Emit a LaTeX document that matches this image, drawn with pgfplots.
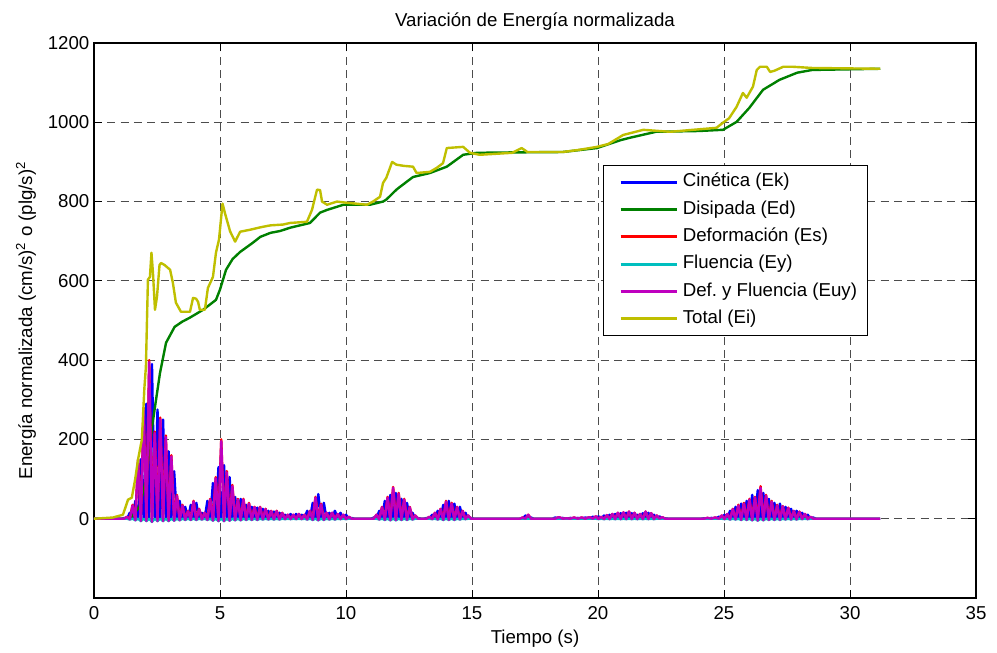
\documentclass[border=0pt]{standalone}
\usepackage{fontspec}
\setmainfont{Liberation Sans}
\usepackage{pgfplots}
\pgfplotsset{compat=1.18}
\usepackage{pgfplotstable}

\definecolor{mblue}{rgb}{0,0,1}
\definecolor{mgreen}{rgb}{0,0.5,0}
\definecolor{mred}{rgb}{1,0,0}
\definecolor{mcyan}{rgb}{0,0.75,0.75}
\definecolor{mmag}{rgb}{0.75,0,0.75}
\definecolor{myel}{rgb}{0.75,0.75,0}

% t Ek Es Ey Euy
\pgfplotstableread{
t Ek Es Ey Euy
0 0 0 0 0
1.10 0 0 0 0
1.20 2 0 0 0
1.31 0 5 0 5
1.42 15 0 -2 -2
1.53 0 35 0 33
1.64 45 0 -4 -4
1.75 0 150 0 148
1.86 150 0 -6 -6
1.97 0 280 0 276
2.08 290 0 -6 -6
2.19 0 400 0 395
2.30 390 0 -8 -8
2.41 0 220 0 216
2.52 275 0 -6 -6
2.63 0 255 0 250
2.74 250 0 -6 -6
2.85 0 210 0 206
2.96 170 0 -6 -6
3.07 0 160 0 157
3.18 120 0 -5 -5
3.29 0 60 0 58
3.40 45 0 -4 -4
3.51 0 35 0 33
3.62 30 0 -3 -3
3.73 0 20 0 19
3.84 35 0 -3 -3
3.95 0 45 0 43
4.06 40 0 -3 -3
4.17 0 25 0 24
4.28 15 0 -2 -2
4.39 0 15 0 15
4.50 45 0 -3 -3
4.61 0 50 0 48
4.72 90 0 -5 -5
4.83 0 105 0 102
4.94 130 0 -6 -6
5.05 0 200 0 196
5.16 135 0 -6 -6
5.27 0 120 0 117
5.38 105 0 -5 -5
5.49 0 85 0 82
5.60 55 0 -4 -4
5.71 0 50 0 48
5.82 50 0 -4 -4
5.93 0 50 0 48
6.04 35 0 -3 -3
6.15 0 40 0 38
6.26 30 0 -3 -3
6.37 0 30 0 29
6.48 28 0 -3 -3
6.59 0 30 0 29
6.70 25 0 -2 -2
6.81 0 25 0 24
6.92 20 0 -2 -2
7.03 0 20 0 19
7.14 18 0 -2 -2
7.25 0 20 0 19
7.36 15 0 -2 -2
7.47 0 15 0 14
7.58 10 0 -1 -1
7.69 0 10 0 10
7.80 12 0 -1 -1
7.91 0 10 0 10
8.02 12 0 -1 -1
8.13 0 12 0 12
8.24 10 0 -1 -1
8.35 0 10 0 10
8.46 20 0 -2 -2
8.57 0 20 0 19
8.68 40 0 -3 -3
8.79 0 55 0 53
8.90 62 0 -4 -4
9.01 0 38 0 36
9.12 40 0 -3 -3
9.23 0 15 0 15
9.34 15 0 -2 -2
9.45 0 15 0 15
9.56 20 0 -2 -2
9.67 0 12 0 12
9.78 15 0 -1 -1
9.89 0 10 0 10
10.00 10 0 -1 -1
10.11 0 5 0 5
10.22 2 0 0 0
10.33 0 0 0 0
11.00 0 0 0 0
11.10 3 0 0 0
11.21 0 10 0 10
11.32 20 0 -2 -2
11.43 0 30 0 29
11.54 45 0 -3 -3
11.65 0 55 0 53
11.76 60 0 -4 -4
11.87 0 80 0 78
11.98 65 0 -4 -4
12.09 0 65 0 63
12.20 50 0 -3 -3
12.31 0 50 0 48
12.42 40 0 -3 -3
12.53 0 30 0 29
12.64 15 0 -2 -2
12.75 0 8 0 8
12.86 2 0 0 0
12.97 0 0 0 0
13.10 0 0 0 0
13.20 2 0 0 0
13.31 0 5 0 5
13.42 10 0 -1 -1
13.53 0 15 0 15
13.64 20 0 -2 -2
13.75 0 25 0 24
13.86 35 0 -3 -3
13.97 0 45 0 43
14.08 45 0 -3 -3
14.19 0 40 0 38
14.30 38 0 -3 -3
14.41 0 30 0 29
14.52 30 0 -2 -2
14.63 0 20 0 19
14.74 15 0 -1 -1
14.85 0 8 0 8
14.96 2 0 0 0
15.07 0 0 0 0
16.90 0 0 0 0
17.01 0 3 0 3
17.12 8 0 0 0
17.23 0 10 0 10
17.34 3 0 0 0
17.45 0 0 0 0
18.20 0 0 0 0
18.30 3 0 0 0
18.45 0 4 0 4
18.60 2 0 0 0
18.75 0 1 0 1
18.90 2 0 0 0
19.05 0 3 0 3
19.20 2 0 0 0
19.35 0 3 0 3
19.50 3 0 0 0
19.65 0 4 0 4
19.80 5 0 0 0
19.91 0 6 0 6
20.02 6 0 -1 -1
20.13 0 5 0 5
20.24 8 0 -1 -1
20.35 0 9 0 9
20.46 10 0 -1 -1
20.57 0 12 0 12
20.68 12 0 -1 -1
20.79 0 15 0 15
20.90 14 0 -1 -1
21.01 0 16 0 16
21.12 15 0 -1 -1
21.23 0 18 0 18
21.34 14 0 -1 -1
21.45 0 15 0 15
21.56 10 0 -1 -1
21.67 0 12 0 12
21.78 14 0 -1 -1
21.89 0 18 0 18
22.00 15 0 -1 -1
22.11 0 14 0 14
22.22 10 0 -1 -1
22.33 0 8 0 8
22.44 6 0 0 0
22.55 0 4 0 4
22.66 1 0 0 0
22.77 0 0 0 0
24.10 0 0 0 0
24.20 1 0 0 0
24.35 0 2 0 2
24.50 2 0 0 0
24.65 0 3 0 3
24.80 5 0 0 0
24.91 0 8 0 8
25.02 10 0 -1 -1
25.13 0 12 0 12
25.24 20 0 -2 -2
25.35 0 25 0 24
25.46 30 0 -2 -2
25.57 0 35 0 33
25.68 38 0 -3 -3
25.79 0 40 0 38
25.90 45 0 -3 -3
26.01 0 50 0 48
26.12 60 0 -4 -4
26.23 0 55 0 53
26.34 72 0 -5 -5
26.45 0 82 0 78
26.56 65 0 -4 -4
26.67 0 60 0 58
26.78 50 0 -3 -3
26.89 0 45 0 43
27.00 40 0 -3 -3
27.11 0 35 0 33
27.22 38 0 -3 -3
27.33 0 32 0 31
27.44 30 0 -2 -2
27.55 0 28 0 27
27.66 25 0 -2 -2
27.77 0 20 0 19
27.88 20 0 -2 -2
27.99 0 18 0 17
28.10 15 0 -1 -1
28.21 0 12 0 12
28.32 10 0 -1 -1
28.43 0 5 0 5
28.54 3 0 0 0
28.65 0 0 0 0
31.20 0 0 0 0
}\osc

\pgfplotstableread{
t Ed
0 0
1.2 0
1.5 5
1.8 30
2.0 80
2.2 170
2.3 230
2.42 282
2.62 368
2.86 444
3.2 484
3.5 497
3.8 507
4.33 527
4.84 552
5.0 578
5.24 628
5.5 655
5.8 673
6.3 696
6.6 711
7.0 721
7.4 726
7.78 734
8.57 746
8.97 772
9.25 779
9.9 792
10.95 792
11.47 800
11.6 805
12.0 830
12.14 837
12.66 862
13.33 872
14.0 888
14.65 918
15.2 923
16.6 924
18.6 925
19.96 935
20.9 955
21.27 961
22.3 976
24.0 978
24.96 981
25.5 1001
26.0 1036
26.55 1082
27.2 1107
27.9 1125
28.5 1132
31.2 1135
}\dis

\pgfplotstableread{
t Ei
0 0
0.75 3
1.15 10
1.35 48
1.5 53
1.63 98
1.75 150
1.9 200
2.0 330
2.06 383
2.14 603
2.22 610
2.28 671
2.34 620
2.42 527
2.50 560
2.60 640
2.66 645
2.80 640
3.02 628
3.13 595
3.25 545
3.45 522
3.81 522
3.93 557
4.05 555
4.13 547
4.2 527
4.4 527
4.52 582
4.72 610
4.84 671
4.96 704
5.1 795
5.2 770
5.4 725
5.6 699
5.8 724
6.2 729
6.6 735
7.0 740
7.5 742
7.78 746
8.45 749
8.65 779
8.85 830
8.97 829
9.05 800
9.25 792
9.64 800
10.04 797
10.83 792
11.07 800
11.35 812
11.47 847
11.6 860
11.83 900
12.0 893
12.3 890
12.66 888
12.8 872
13.33 875
13.6 885
13.85 897
14.0 935
14.65 938
14.92 923
15.3 918
16.6 923
16.97 935
17.2 925
18.6 925
19.2 930
19.96 938
20.4 945
21.0 968
21.8 981
22.86 976
23.77 981
24.7 986
24.96 999
25.2 1010
25.5 1039
25.75 1074
25.9 1062
26.15 1090
26.3 1132
26.43 1140
26.7 1140
26.83 1127
27.0 1130
27.35 1140
27.74 1140
28.5 1137
31.2 1135
}\tot

\begin{document}
\begin{tikzpicture}[font=\fontsize{14}{16.8}\selectfont]
\path[use as bounding box] (-70.5pt,-41.25pt) rectangle (677.25pt,448.5pt);
\begin{axis}[
  scale only axis, width=661.5pt, height=416.25pt,
  xmin=0, xmax=35, ymin=-200, ymax=1200,
  xtick={0,5,...,35}, ytick={0,200,...,1200},
  grid=major,
  major grid style={black!70, dash pattern=on 6pt off 4pt, line width=0.6pt},
  tick align=inside, major tick length=6pt,
  axis line style={line width=0.8pt},
  tick style={black, line width=0.6pt},
  /pgf/number format/assume math mode=true,
  /pgf/number format/1000 sep={},
  xticklabel style={yshift=-3pt},
  title={Variación de Energía normalizada},
  xlabel={Tiempo (s)},
  xlabel style={yshift=-1pt},
  ylabel={Energía normalizada (cm/s)\textsuperscript{2} o (plg/s)\textsuperscript{2}},
  ylabel style={yshift=2pt},
  legend cell align=left,
  legend style={at={(0.577,0.780)}, anchor=north west, draw=black, line width=0.8pt,
    font=\fontsize{14}{16.8}\selectfont, row sep=0.5pt, inner xsep=4pt, inner ysep=2.5pt,
    nodes={text height=10pt, text depth=3pt, inner sep=3.5pt}},
  legend image code/.code={\path (0pt,0pt); \draw[#1, line width=2.2pt] (8pt,0pt) -- (50pt,0pt);},
  every axis plot/.append style={line width=1.8pt, line join=round},
]
\addplot[mblue] table[x=t, y=Ek] {\osc};
\addlegendentry{Cinética (Ek)}
\addplot[mgreen] table[x=t, y=Ed] {\dis};
\addlegendentry{Disipada (Ed)}
\addplot[mred] table[x=t, y=Es] {\osc};
\addlegendentry{Deformación (Es)}
\addplot[mcyan] table[x=t, y=Ey] {\osc};
\addlegendentry{Fluencia (Ey)}
\addplot[mmag] table[x=t, y=Euy] {\osc};
\addlegendentry{Def.\ y Fluencia (Euy)}
\addplot[myel] table[x=t, y=Ei] {\tot};
\addlegendentry{Total (Ei)}
\end{axis}
\end{tikzpicture}
\end{document}
